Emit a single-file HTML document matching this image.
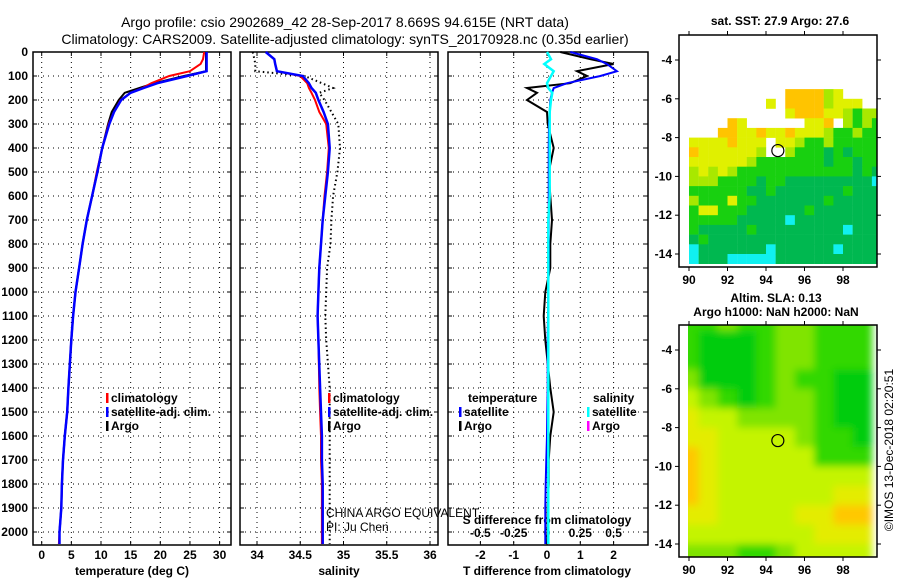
<!DOCTYPE html>
<html><head><meta charset="utf-8"><style>
body{margin:0;background:#fff;width:900px;height:580px;overflow:hidden}
svg{display:block;font-family:"Liberation Sans",sans-serif}
.b{font-weight:bold;font-size:12px}
</style></head><body>
<svg id="s" width="900" height="580" xmlns="http://www.w3.org/2000/svg">
<defs>
<clipPath id="c1"><rect x="679" y="35" width="198" height="232"/></clipPath>
<clipPath id="c2"><rect x="688" y="325" width="189" height="232"/></clipPath>
<filter id="bl" x="-10%" y="-10%" width="120%" height="120%"><feGaussianBlur stdDeviation="4"/></filter>
</defs>
<text x="345" y="27" text-anchor="middle" font-size="14">Argo profile: csio 2902689_42 28-Sep-2017 8.669S 94.615E (NRT data)</text>
<text x="345" y="44" text-anchor="middle" font-size="14">Climatology: CARS2009. Satellite-adjusted climatology: synTS_20170928.nc (0.35d earlier)</text>
<text x="780" y="25" text-anchor="middle" class="b">sat. SST: 27.9 Argo: 27.6</text>
<text x="776" y="302" text-anchor="middle" class="b">Altim. SLA: 0.13</text>
<text x="776" y="316" text-anchor="middle" class="b">Argo h1000: NaN h2000: NaN</text>
<text transform="translate(893,450) rotate(-90)" text-anchor="middle" font-size="12">©IMOS 13-Dec-2018 02:20:51</text>
<g id="g"></g>
</svg>
<script>
// ---------- data ----------
const depthTicks=[0,100,200,300,400,500,600,700,800,900,1000,1100,1200,1300,1400,1500,1600,1700,1800,1900,2000];
const tempTicks=[0,5,10,15,20,25,30];
const salTicks=[34,34.5,35,35.5,36];
const dTTicks=[-2,-1,0,1,2];
const dSTicks=[-0.5,-0.25,0,0.25,0.5];
const depths=[0,30,50,80,100,130,150,170,200,250,300,400,500,600,700,800,900,1000,1100,1200,1400,1500,1600,1700,1800,1900,2000,2050];
const tempClim=[27.4,27.2,26.8,25,21.5,18.5,17,15,13.3,12.2,11.3,10.2,9.3,8.5,7.6,6.9,6.3,5.7,5.3,5.0,4.5,4.3,3.9,3.6,3.4,3.3,3.0,2.9];
const tempSat=[27.8,27.8,27.8,27.8,24.5,19.5,17.2,15,13.4,12.2,11.4,10.2,9.4,8.5,7.6,6.9,6.3,5.7,5.3,5.0,4.5,4.3,3.9,3.6,3.4,3.3,3.0,3.0];
const tempArgo=[27.7,27.7,27.7,27.7,24,19,16.5,14,13,11.8,11.2,10.2,9.4,8.5,7.6,6.9,6.3,5.7,5.3,5.0,4.5,4.3,3.9,3.6,3.4,3.3,3.0,3.0];
const salClim=[34.1,34.2,34.21,34.23,34.5,34.58,34.6,34.63,34.67,34.72,34.8,34.83,34.81,34.78,34.76,34.74,34.72,34.71,34.7,34.71,34.72,34.73,34.74,34.74,34.75,34.75,34.75,34.75];
const salSat=[34.1,34.2,34.21,34.23,34.53,34.6,34.63,34.68,34.71,34.77,34.82,34.84,34.82,34.79,34.76,34.74,34.72,34.71,34.7,34.71,34.73,34.74,34.75,34.75,34.76,34.76,34.76,34.76];
const salArgo=[33.95,33.97,33.98,33.98,34.55,34.75,34.88,34.72,34.78,34.86,34.94,34.96,34.93,34.88,34.86,34.85,34.81,34.8,34.79,34.8,34.84,34.84,34.84,34.84,34.84,34.84,34.84,34.84];
const dTSat=[0.7,1.5,1.8,2.1,1.6,0.6,0.2,0.15,0.1,0.08,0.06,0.05,0.05,0.05,0.05,0.05,0.05,0.04,0.03,0.02,0.02,0.01,0,-0.02,-0.04,-0.05,-0.05,-0.05];
const dTArgo=[0.4,1.3,2.0,0.9,1.2,0.7,-0.6,-0.3,-0.6,0,0.02,0.2,0.05,0.1,0.15,0.1,0.1,-0.05,-0.1,-0.05,0.1,0.2,0.1,0.05,0.05,0.02,0.02,0];
const dSSat=[0,0.03,-0.02,0.05,0.03,0,0.01,0.04,0.03,0.02,0.02,0.02,0.02,0.02,0.01,0.01,0.01,0.01,0.01,0.01,0.01,0.01,0.01,0.01,0.01,0.01,0.01,0.01];
const lonTicks=[90,92,94,96,98];
const latTicks=[-4,-6,-8,-10,-12,-14];
const sstRows=[
"....................","....................","....................","....................","....................",
"..........ooooly....","........y.oooolyyy..","..........yoooyylgll","....oy......yyo.lglg","...ooyyoyyoyyylgglgg",
"yyyyoyyy.yylgglggggg","oyyyyyyl..lgggdgdggg","yyyyyylgggggggdggdgg","lylylggggggggggggdgd","lllggggdggdddddddddc",
"ggggggddgdddddddgddd","lgggyggdddddddgddddd","gyygggddddddgddddddd","gggggdddddcddddddddd","gdddddgdddddddddcddd",
"dgdddddddddddddddddd","cdddddddcddddddcdddd","cdddcccccddddddddddd"];
const slaRows=[
[1,1,2,1,1,2,2,1,1,1],[1,0,0,0,1,2,2,1,1,1],[1,0,0,0,1,2,2,1,1,1],[2,0,0,0,1,2,1,1,0,0],
[3,2,1,0,1,2,2,1,0,0],[4,3,3,2,2,2,2,1,0,0],[4,4,3,3,3,3,2,1,1,0],[5,4,3,3,3,3,3,1,1,1],
[5,4,3,3,3,3,3,3,3,3],[5,4,3,3,3,3,3,3,4,4],[4,4,3,3,3,3,4,4,5,5],[3,3,3,3,3,3,3,4,4,4],[2,2,2,1,1,2,3,3,3,3]];
// ---------- helpers ----------
const NS="http://www.w3.org/2000/svg",G=document.getElementById('g');
function mk(t,a,p){const e=document.createElementNS(NS,t);for(const k in a)e.setAttribute(k,a[k]);(p||G).appendChild(e);return e;}
function tx(x,y,s,anchor,cls){const e=mk('text',{x:x,y:y,'text-anchor':anchor||'middle','class':cls||'b'});e.textContent=s;return e;}
const Y0=52,PY=0.24,yD=d=>Y0+d*PY,TOP=52,BOT=545;
const xT=v=>41.7+v*5.93, xS=v=>257+(v-34)*86.5, xD=v=>547+v*33.3, xDS=v=>547+v*133.2;
function panel(L,R,name){
  const r=mk('rect',{x:L,y:TOP,width:R-L,height:BOT-TOP,fill:'none',stroke:'#000','stroke-width':1.5});
  
  
  depthTicks.forEach(d=>{mk('line',{x1:L,x2:R,y1:yD(d),y2:yD(d),stroke:'#000','stroke-dasharray':'1 4'});
    mk('line',{x1:L,x2:L+4,y1:yD(d),y2:yD(d),stroke:'#000'});mk('line',{x1:R-4,x2:R,y1:yD(d),y2:yD(d),stroke:'#000'});});
}
function vgrid(xs,f){xs.forEach(v=>{const x=f(v);mk('line',{x1:x,x2:x,y1:TOP,y2:BOT,stroke:'#000','stroke-dasharray':'1 4'});
  mk('line',{x1:x,x2:x,y1:BOT-4,y2:BOT,stroke:'#000'});mk('line',{x1:x,x2:x,y1:TOP,y2:TOP+4,stroke:'#000'});});}
function line(vals,f,col,w,name,dash){
  const pts=vals.map((v,i)=>f(v).toFixed(1)+','+yD(depths[i]).toFixed(1)).join(' ');
  const a={points:pts,fill:'none',stroke:col,'stroke-width':w};if(dash)a['stroke-dasharray']=dash;
  const e=mk('polyline',a);
  
  
}
// ---------- panel 1 ----------
panel(33,231,'temperature-panel');vgrid(tempTicks,xT);
depthTicks.forEach(d=>tx(28,yD(d)+4,String(d),'end'));
tempTicks.forEach(v=>tx(xT(v),559,String(v)));
tx(132,575,'temperature (deg C)');
line(tempArgo,xT,'#000',2,'temp-argo-line');line(tempClim,xT,'#f00',2,'temp-climatology-line');line(tempSat,xT,'#00f',2.5,'temp-satellite-line');
// ---------- panel 2 ----------
panel(240,438,'salinity-panel');vgrid(salTicks,xS);
salTicks.forEach(v=>tx(xS(v),559,String(v)));
tx(339,575,'salinity');
line(salArgo,xS,'#000',2,'salinity-argo-line','1.5 3');line(salClim,xS,'#f00',2,'salinity-climatology-line');line(salSat,xS,'#00f',2.5,'salinity-satellite-line');
// ---------- panel 3 ----------
panel(448,648,'difference-panel');vgrid(dTTicks,xD);
dTTicks.forEach(v=>tx(xD(v),559,String(v)));
dSTicks.forEach(v=>tx(xDS(v),537,String(v)));
tx(547,575,'T difference from climatology');tx(547,524,'S difference from climatology');
line(dTArgo,xD,'#000',2,'dT-argo-line');line(dTSat,xD,'#00f',2,'dT-satellite-line');line(dSSat,xDS,'#0ff',2.5,'dS-satellite-line');
// legends
function leg(x,y,col,label,name){const g=mk('g',{});
  if(col)mk('rect',{x:x,y:y-9,width:2.5,height:10,fill:col},g);const t=mk('text',{x:x+5,y:y,'class':'b'},g);t.textContent=label;}
leg(106,402,'#f00','climatology','legend-climatology');leg(106,416,'#00f','satellite-adj. clim.','legend-satellite-adj');leg(106,430,'#000','Argo','legend-argo');
leg(328,402,'#f00','climatology','legend-sal-climatology');leg(328,416,'#00f','satellite-adj. clim.','legend-sal-satellite');leg(328,430,'#000','Argo','legend-sal-argo');
leg(463,402,null,'temperature','legend-temp-header');leg(459,416,'#00f','satellite','legend-dT-satellite');leg(459,430,'#000','Argo','legend-dT-argo');
leg(588,402,null,'salinity','legend-sal-header');leg(587,416,'#0ff','satellite','legend-dS-satellite');leg(587,430,'#f0f','Argo','legend-dS-argo');
let t1=mk('text',{x:326,y:517,'font-size':12});t1.textContent='CHINA ARGO EQUIVALENT';
let t2=mk('text',{x:326,y:531,'font-size':12});t2.textContent='PI: Ju Chen';
// ---------- maps ----------
const xL=v=>689+(v-90)*19.25;
function mapAxes(top,bot,yLat,name){
  const r=mk('rect',{x:679,y:top,width:198,height:bot-top,fill:'none',stroke:'#000','stroke-width':1.5});
  
  
  lonTicks.forEach(v=>{mk('line',{x1:xL(v),x2:xL(v),y1:bot,y2:bot+4,stroke:'#000'});mk('line',{x1:xL(v),x2:xL(v),y1:top,y2:top-4,stroke:'#000'});tx(xL(v),bot+17,String(v));});
  latTicks.forEach(v=>{mk('line',{x1:679,x2:675,y1:yLat(v),y2:yLat(v),stroke:'#000'});mk('line',{x1:877,x2:881,y1:yLat(v),y2:yLat(v),stroke:'#000'});tx(672,yLat(v)+4,String(v),'end');});
}
const yL1=v=>60+(-4-v)*19.4, yL2=v=>350+(-4-v)*19.4;
const sstCol={o:'#ffc400',y:'#e0f000',l:'#a8e800',g:'#18d010',d:'#00b850',c:'#10f0f0'};
const mg=mk('g',{'clip-path':'url(#c1)'});
sstRows.forEach((row,ri)=>{const lat=-3-ri*0.5;[...row].forEach((ch,ci)=>{if(sstCol[ch]){const lon=90+ci*0.5;
  const c=mk('rect',{x:xL(lon),y:yL1(lat),width:9.8,height:10,fill:sstCol[ch]},mg);
  
  }});});
mapAxes(35,267,yL1,'sst-map-frame');
mk('circle',{cx:xL(94.615),cy:yL1(-8.669),r:6,fill:'none',stroke:'#000','stroke-width':1.2});
const slaCol=['#00cc10','#30d800','#80e400','#c4f400','#e4ec00','#ffc800'];
const mg2=mk('g',{'clip-path':'url(#c2)'});
const inner=mk('g',{filter:'url(#bl)'},mg2);
slaRows.forEach((row,ri)=>{const lat=-2.5-ri;row.forEach((v,ci)=>{const lon=90+ci;
  const c=mk('rect',{x:xL(lon-0.5),y:yL2(lat+0.5),width:19.6,height:19.8,fill:slaCol[v]},inner);
  
  });});
mapAxes(325,557,yL2,'sla-map-frame');
mk('circle',{cx:xL(94.615),cy:yL2(-8.669),r:6,fill:'none',stroke:'#000','stroke-width':1.2});
</script>
</body></html>
